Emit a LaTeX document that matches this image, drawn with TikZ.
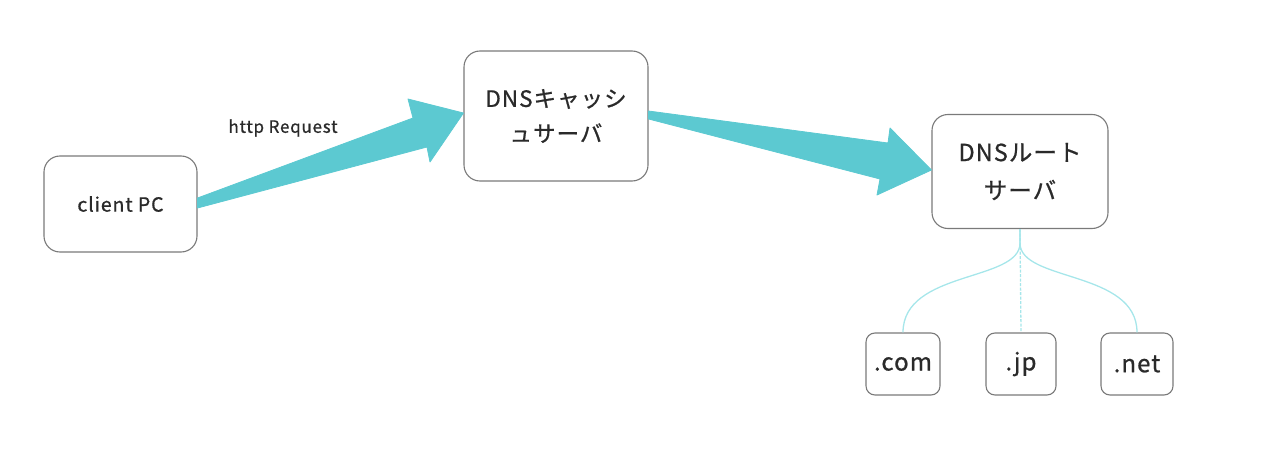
\documentclass[tikz,border=0pt]{standalone}
\usepackage{fontspec}
\setmainfont[LetterSpace=4.5,FakeBold=0.8]{Noto Sans CJK JP}
\definecolor{teal1}{HTML}{5CC9D1}
\definecolor{cyanl}{HTML}{A6E6EA}
\definecolor{boxline}{HTML}{7A7A7A}
\definecolor{txt}{HTML}{2A2A2A}
\begin{document}
\begin{tikzpicture}[x=1pt,y=-1pt,
  box/.style={draw=boxline,line width=1.1pt,rounded corners=16pt,fill=white,inner sep=0pt,text=txt},
  leaf/.style={draw=boxline,line width=1.1pt,rounded corners=9pt,fill=white,inner sep=0pt,text=txt,font=\fontsize{24}{28}\selectfont},
  fat/.style={fill=teal1,draw=teal1,line width=0.8pt,line join=round},
  tree/.style={draw=cyanl,line width=1.3pt}]
\useasboundingbox (0,0) rectangle (1274,468);
\node[box,minimum width=153pt,minimum height=96pt,font=\fontsize{19.5}{22}\selectfont] (pc) at (120.5,204) {client PC};
\node[box,minimum width=184pt,minimum height=130pt,align=center,font=\fontsize{22.5}{35}\selectfont] (cache) at (556,116) {DNSキャッシ\\ュサーバ};
\node[box,minimum width=176pt,minimum height=114pt,align=center,font=\fontsize{23.5}{38}\selectfont] (root) at (1020,171.5) {DNSルート\\サーバ};
\node[leaf,minimum width=74pt,minimum height=62pt] (com) at (903,364) {.com};
\node[leaf,minimum width=70pt,minimum height=62pt] (jp) at (1021,364) {.jp};
\node[leaf,minimum width=72pt,minimum height=62pt] (net) at (1137,364) {.net};
\node[text=txt,font=\fontsize{17}{19}\selectfont] (lbl) at (283,128) {http Request};
% fat arrows
\coordinate (a1t) at (pc.east |- 0,198);
\coordinate (a1b) at (pc.east |- 0,208);
\coordinate (a1tip) at (cache.west |- 0,113);
\fill[fat] (a1t) -- (413,118) -- (408,99) -- (a1tip) -- (430,162) -- (427,147) -- (a1b) -- cycle;
\coordinate (a2t) at (cache.east |- 0,111);
\coordinate (a2b) at (cache.east |- 0,119);
\coordinate (a2tip) at (root.west |- 0,170);
\fill[fat] (a2t) -- (888,143) -- (890,128) -- (a2tip) -- (877,195) -- (880,179) -- (a2b) -- cycle;
% tree
\coordinate (rb) at (root.south);
\draw[tree] (rb) -- ++(0,14) .. controls (1020,282) and (903,270) .. (com.north);
\draw[tree] (rb) -- ++(0,14) .. controls (1020,282) and (1137,270) .. (net.north);
\draw[tree,dash pattern=on 3pt off 1.5pt] (rb) -- (jp.north);
\end{tikzpicture}
\end{document}
